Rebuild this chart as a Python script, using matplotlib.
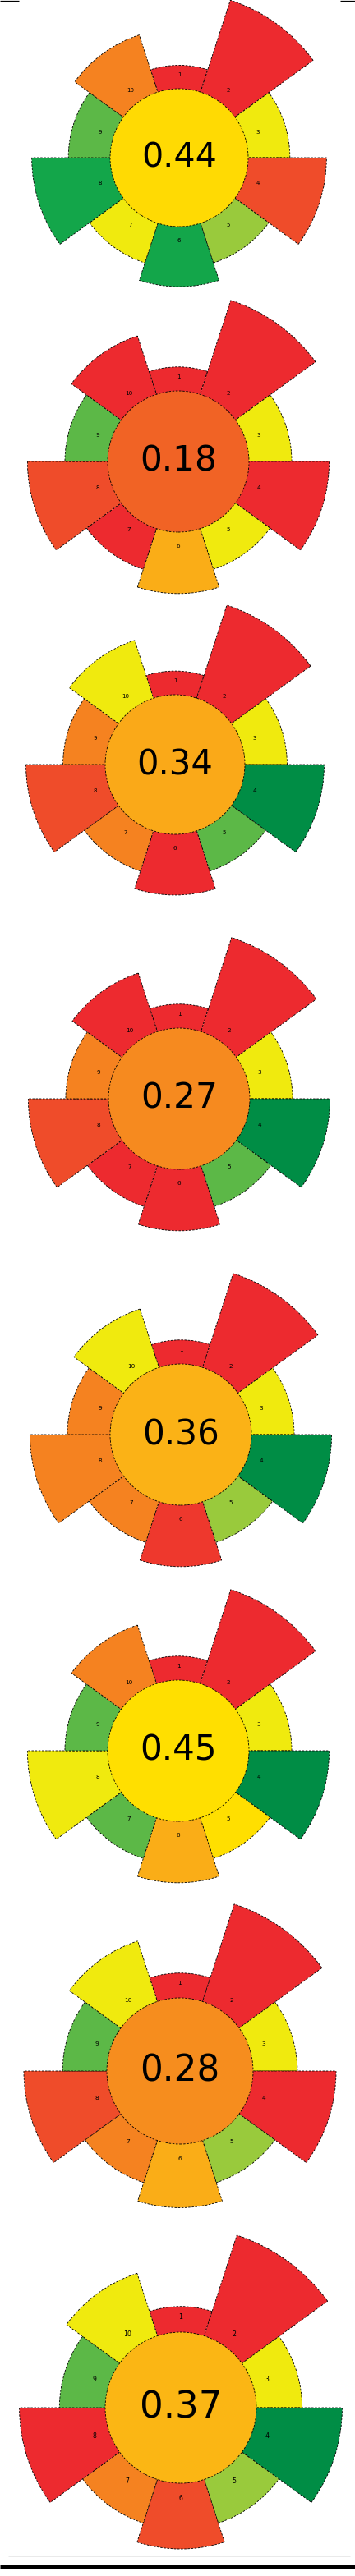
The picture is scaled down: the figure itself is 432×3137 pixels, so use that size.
import matplotlib
matplotlib.use("Agg")
import matplotlib.pyplot as plt
from matplotlib.patches import Wedge, Circle
from matplotlib.lines import Line2D
from matplotlib.colors import LinearSegmentedColormap

# ---------------- data ----------------
criteria = ["1", "2", "3", "4", "5", "6", "7", "8", "9", "10"]
weights = [1, 5, 2, 4, 2, 3, 2, 4, 2, 3]

scores_1 = [0, 0, 0.55, 0.12, 0.70, 0.90, 0.55, 0.90, 0.80, 0.25]
scores_2 = [0, 0, 0.55, 0.00, 0.55, 0.35, 0.00, 0.12, 0.80, 0.00]
scores_3 = [0, 0, 0.55, 1.00, 0.80, 0.00, 0.25, 0.12, 0.25, 0.55]
scores_4 = [0, 0, 0.55, 1.00, 0.80, 0.00, 0.00, 0.12, 0.25, 0.00]
scores_5 = [0, 0, 0.55, 1.00, 0.70, 0.05, 0.25, 0.25, 0.25, 0.55]
scores_6 = [0, 0, 0.55, 1.00, 0.45, 0.35, 0.80, 0.55, 0.80, 0.25]
scores_7 = [0, 0, 0.55, 0.00, 0.70, 0.35, 0.25, 0.12, 0.80, 0.55]
scores_8 = [0, 0, 0.55, 1.00, 0.70, 0.12, 0.25, 0.00, 0.80, 0.55]
all_scores = [scores_1, scores_2, scores_3, scores_4,
              scores_5, scores_6, scores_7, scores_8]
totals = [0.44, 0.18, 0.34, 0.27, 0.36, 0.45, 0.28, 0.37]
total_labels = ["0.44", "0.18", "0.34", "0.27", "0.36", "0.45", "0.28", "0.37"]

# ---------------- style / layout ----------------
W, H, DPI = 432, 3137, 100
cmap = LinearSegmentedColormap.from_list("agree", [
    (0.00, "#ED2A2F"), (0.12, "#EF4D2A"), (0.20, "#F26A24"),
    (0.25, "#F58220"), (0.30, "#F7961D"), (0.36, "#FBB216"),
    (0.45, "#FFDF00"), (0.55, "#F0EA0E"), (0.70, "#9ACA3C"),
    (0.80, "#5CB847"), (0.90, "#13A64A"), (1.00, "#008D45")])

# chart centres and inner radius in pixels
layout = [(218, 192, 84), (217, 562, 86), (213, 931, 85), (218, 1338, 86),
          (220, 1747, 86), (217, 2132, 86), (219, 2522, 89), (220, 2932, 92)]

def outer_radius(w):
    return 1.075 + 0.265 * w

fig = plt.figure(figsize=(W / DPI, H / DPI), dpi=DPI)
fig.patch.set_facecolor("white")

EXT = 2.5
dash = (0, (3, 2))
for (cx, cy, r0), scores, tot, tl in zip(layout, all_scores, totals, total_labels):
    R = EXT * r0
    ax = fig.add_axes([(cx - R) / W, (H - cy - R) / H, 2 * R / W, 2 * R / H])
    ax.set_xlim(-EXT, EXT)
    ax.set_ylim(-EXT, EXT)
    ax.set_aspect("equal")
    ax.axis("off")
    n = len(criteria)
    step = 360.0 / n
    for i, (lab, w, s) in enumerate(zip(criteria, weights, scores)):
        mid = 90 - step * i
        wd = Wedge((0, 0), outer_radius(w), mid - step / 2, mid + step / 2,
                   facecolor=cmap(s), edgecolor="black", linewidth=0.6,
                   linestyle=dash, zorder=2)
        ax.add_patch(wd)
    circ = Circle((0, 0), 1.0, facecolor=cmap(tot), edgecolor="black",
                  linewidth=0.6, linestyle=dash, zorder=3)
    ax.add_patch(circ)
    import math
    for i, lab in enumerate(criteria):
        mid = math.radians(90 - step * i)
        ax.text(1.2 * math.cos(mid), 1.2 * math.sin(mid), lab,
                ha="center", va="center", fontsize=5.2 * r0 / 86,
                color="black", zorder=4)
    ax.text(0, 0, tl, ha="center", va="center", fontsize=0.353 * r0,
            color="black", zorder=5)

# border line fragments
def hline(x0, x1, y, lw, color="black"):
    fig.add_artist(Line2D([x0 / W, x1 / W], [1 - y / H, 1 - y / H],
                          transform=fig.transFigure, color=color,
                          linewidth=lw, solid_capstyle="butt"))

hline(0, 23, 0.5, 0.9)
hline(414, 432, 0.5, 0.9)
hline(10, 426, 3113, 0.6, "#e6e6e6")
hline(0, 432, 3125.5, 3.6)

fig.savefig("out.png", dpi=DPI, facecolor="white")
